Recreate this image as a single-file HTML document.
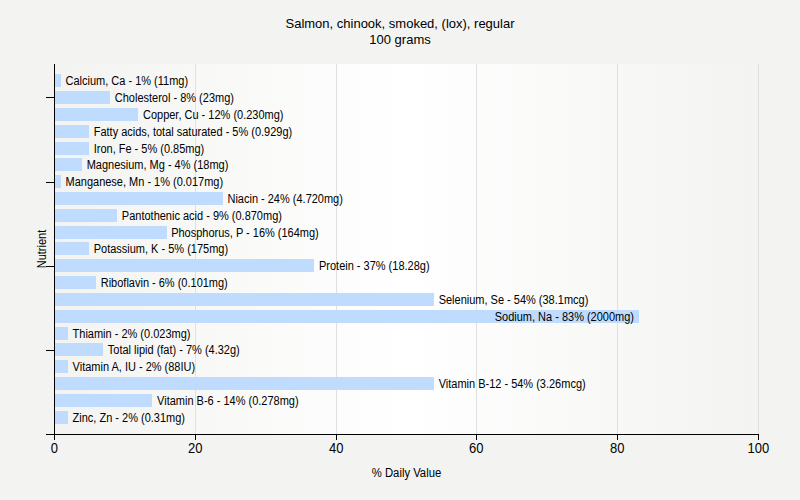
<!DOCTYPE html>
<html><head><meta charset="utf-8"><style>
html,body{margin:0;padding:0;background:#f3f3f1;}
svg{display:block;}
text{font-family:"Liberation Sans",sans-serif;fill:#000;}
</style></head><body>
<svg width="800" height="500" viewBox="0 0 800 500">
<defs><linearGradient id="pg" x1="0" y1="0" x2="1" y2="0">
<stop offset="0" stop-color="#f3f3f1"/><stop offset="0.5" stop-color="#ffffff"/><stop offset="1" stop-color="#f3f3f1"/></linearGradient></defs>
<rect x="0" y="0" width="800" height="500" fill="#f3f3f1"/>
<rect x="54" y="64" width="704" height="370" fill="url(#pg)"/>

<rect x="195" y="64" width="1" height="370" fill="#e0e0e0"/>
<rect x="336" y="64" width="1" height="370" fill="#e0e0e0"/>
<rect x="476" y="64" width="1" height="370" fill="#e0e0e0"/>
<rect x="617" y="64" width="1" height="370" fill="#e0e0e0"/>
<rect x="758" y="64" width="1" height="370" fill="#e0e0e0"/>
<rect x="54" y="74" width="7" height="13" fill="#bfdcff"/>
<text transform="translate(65.54,85.00) scale(1,1.11)" font-size="11">Calcium, Ca - 1% (11mg)</text>
<rect x="54" y="91" width="56" height="13" fill="#bfdcff"/>
<text transform="translate(114.82,102.00) scale(1,1.11)" font-size="11">Cholesterol - 8% (23mg)</text>
<rect x="54" y="108" width="84" height="13" fill="#bfdcff"/>
<text transform="translate(142.98,119.00) scale(1,1.11)" font-size="11">Copper, Cu - 12% (0.230mg)</text>
<rect x="54" y="125" width="35" height="13" fill="#bfdcff"/>
<text transform="translate(93.70,136.00) scale(1,1.11)" font-size="11">Fatty acids, total saturated - 5% (0.929g)</text>
<rect x="54" y="142" width="35" height="13" fill="#bfdcff"/>
<text transform="translate(93.70,153.00) scale(1,1.11)" font-size="11">Iron, Fe - 5% (0.85mg)</text>
<rect x="54" y="158" width="28" height="13" fill="#bfdcff"/>
<text transform="translate(86.66,169.00) scale(1,1.11)" font-size="11">Magnesium, Mg - 4% (18mg)</text>
<rect x="54" y="175" width="7" height="13" fill="#bfdcff"/>
<text transform="translate(65.54,186.00) scale(1,1.11)" font-size="11">Manganese, Mn - 1% (0.017mg)</text>
<rect x="54" y="192" width="169" height="13" fill="#bfdcff"/>
<text transform="translate(227.46,203.00) scale(1,1.11)" font-size="11">Niacin - 24% (4.720mg)</text>
<rect x="54" y="209" width="63" height="13" fill="#bfdcff"/>
<text transform="translate(121.86,220.00) scale(1,1.11)" font-size="11">Pantothenic acid - 9% (0.870mg)</text>
<rect x="54" y="226" width="113" height="13" fill="#bfdcff"/>
<text transform="translate(171.14,237.00) scale(1,1.11)" font-size="11">Phosphorus, P - 16% (164mg)</text>
<rect x="54" y="242" width="35" height="13" fill="#bfdcff"/>
<text transform="translate(93.70,253.00) scale(1,1.11)" font-size="11">Potassium, K - 5% (175mg)</text>
<rect x="54" y="259" width="260" height="13" fill="#bfdcff"/>
<text transform="translate(318.98,270.00) scale(1,1.11)" font-size="11">Protein - 37% (18.28g)</text>
<rect x="54" y="276" width="42" height="13" fill="#bfdcff"/>
<text transform="translate(100.74,287.00) scale(1,1.11)" font-size="11">Riboflavin - 6% (0.101mg)</text>
<rect x="54" y="293" width="380" height="13" fill="#bfdcff"/>
<text transform="translate(438.66,304.00) scale(1,1.11)" font-size="11">Selenium, Se - 54% (38.1mcg)</text>
<rect x="54" y="310" width="585" height="13" fill="#bfdcff"/>
<text transform="translate(634.00,321.00) scale(1,1.11)" font-size="11" text-anchor="end">Sodium, Na - 83% (2000mg)</text>
<rect x="54" y="327" width="14" height="13" fill="#bfdcff"/>
<text transform="translate(72.58,338.00) scale(1,1.11)" font-size="11">Thiamin - 2% (0.023mg)</text>
<rect x="54" y="343" width="49" height="13" fill="#bfdcff"/>
<text transform="translate(107.78,354.00) scale(1,1.11)" font-size="11">Total lipid (fat) - 7% (4.32g)</text>
<rect x="54" y="360" width="14" height="13" fill="#bfdcff"/>
<text transform="translate(72.58,371.00) scale(1,1.11)" font-size="11">Vitamin A, IU - 2% (88IU)</text>
<rect x="54" y="377" width="380" height="13" fill="#bfdcff"/>
<text transform="translate(438.66,388.00) scale(1,1.11)" font-size="11">Vitamin B-12 - 54% (3.26mcg)</text>
<rect x="54" y="394" width="98" height="13" fill="#bfdcff"/>
<text transform="translate(157.06,405.00) scale(1,1.11)" font-size="11">Vitamin B-6 - 14% (0.278mg)</text>
<rect x="54" y="411" width="14" height="13" fill="#bfdcff"/>
<text transform="translate(72.58,422.00) scale(1,1.11)" font-size="11">Zinc, Zn - 2% (0.31mg)</text>
<rect x="54" y="64" width="1" height="376" fill="#000"/>
<rect x="46" y="434" width="713" height="1" fill="#000"/>
<rect x="54" y="434" width="1" height="6" fill="#000"/>
<text transform="translate(54.30,453.00) scale(1,1.09)" font-size="13" text-anchor="middle">0</text>
<rect x="195" y="434" width="1" height="6" fill="#000"/>
<text transform="translate(195.30,453.00) scale(1,1.09)" font-size="13" text-anchor="middle">20</text>
<rect x="336" y="434" width="1" height="6" fill="#000"/>
<text transform="translate(336.30,453.00) scale(1,1.09)" font-size="13" text-anchor="middle">40</text>
<rect x="476" y="434" width="1" height="6" fill="#000"/>
<text transform="translate(476.30,453.00) scale(1,1.09)" font-size="13" text-anchor="middle">60</text>
<rect x="617" y="434" width="1" height="6" fill="#000"/>
<text transform="translate(617.30,453.00) scale(1,1.09)" font-size="13" text-anchor="middle">80</text>
<rect x="758" y="434" width="1" height="6" fill="#000"/>
<text transform="translate(758.30,453.00) scale(1,1.09)" font-size="13" text-anchor="middle">100</text>
<rect x="46" y="97" width="8" height="1" fill="#000"/>
<rect x="46" y="182" width="8" height="1" fill="#000"/>
<rect x="46" y="266" width="8" height="1" fill="#000"/>
<rect x="46" y="350" width="8" height="1" fill="#000"/>
<text transform="translate(400.00,28.00) scale(1,1.0)" font-size="13" text-anchor="middle">Salmon, chinook, smoked, (lox), regular</text>
<text transform="translate(400.00,44.00) scale(1,1.0)" font-size="13" text-anchor="middle">100 grams</text>
<text transform="translate(406.50,477.00) scale(1,1.08)" font-size="11.3" text-anchor="middle">% Daily Value</text>
<text transform="translate(46,249) rotate(-90) scale(1,1.11)" font-size="11" text-anchor="middle">Nutrient</text>
</svg></body></html>
